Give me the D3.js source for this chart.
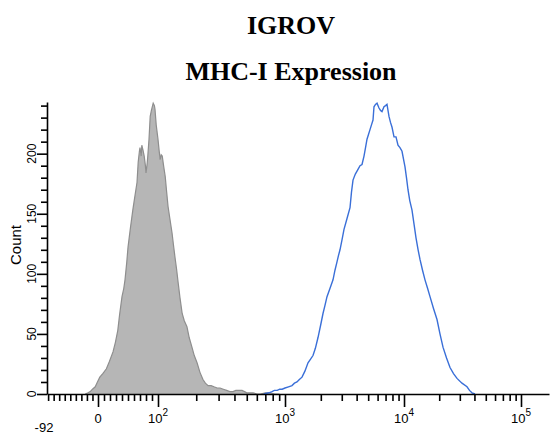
<!DOCTYPE html>
<html>
<head>
<meta charset="utf-8">
<script src="https://cdn.jsdelivr.net/npm/d3@7"></script>
<style>
  html, body { margin: 0; padding: 0; background: #fff; }
  svg { display: block; }
</style>
</head>
<body>
<svg id="chart" width="550" height="434"></svg>
<script>
// Isotype control histogram (fluorescence value, event count)
const isoValues = [-23,-18,-14,-10,-5,-1,3,8,14,19,25,29,33,36,40,43,45,48,50,54,58,61,65,67,69,70,72,73,75,77,79,80,82,83,85,87,89,92,94,95,97,100,102,104,106,108,111,114,117,120,124,129,132,136,140,144,149,155,161,169,176,185,193,203,214,226,236,248,262,276,292,308,327,347,368,390,410,430,459,480,500,530,561,600,640,700,762,830,905];
const isoCounts = [0,1,2,4,6,10,14,17,21,27,35,43,53,66,81,88,95,110,122,138,153,163,176,193,202,205,198,207,203,198,190,184,192,198,212,231,236,242,240,237,224,212,203,195,199,198,189,181,168,156,146,134,125,114,104,93,80,67,61,56,47,39,32,26,18,12,9,7,7,6,5,5,4,3,2,2,3,3,3,2,1,1,1,0,0,1,1,0,0];

// MHC-I stained histogram (fluorescence value, event count)
const mhcValues = [679,748,790,824,870,908,950,1000,1070,1145,1200,1261,1320,1390,1470,1561,1640,1719,1800,1894,1990,2086,2170,2254,2390,2532,2630,2735,2810,2899,3010,3132,3320,3518,3620,3728,3900,4106,4270,4437,4612,4750,4888,5030,5180,5330,5490,5596,5760,5932,6165,6350,6534,6791,7000,7196,7479,7700,7932,8242,8566,8904,9250,9621,10199,10500,10818,11200,11706,12200,12665,13200,13700,14400,15115,15900,16684,17900,19148,20300,21544,23100,24733,26500,28379,31300,34556,36300,38128,40449];
const mhcCounts = [0,1,2,3,3,4,4,5,6,7,9,10,12,14,19,26,29,32,38,47,57,67,74,81,88,95,103,110,115,120,128,137,146,155,168,178,183,187,190,191,198,205,212,216,220,224,228,239,241,242,238,236,235,239,240,241,231,226,222,214,214,207,205,202,189,180,170,161,153,141,130,120,112,103,95,88,81,71,62,50,39,30,22,17,13,9,6,3,1,0];

// Axis ticks and labels
const countTicks = d3.range(0, 241, 10);
const countLabels = [0, 50, 100, 150, 200];
const linearTicks = d3.range(-90, 91, 10);
const decadeLabels = [{v: 100, p: "2"}, {v: 1000, p: "3"}, {v: 10000, p: "4"}, {v: 100000, p: "5"}];
const axisMin = -92;

const svg = d3.select("#chart");
const sans = "Arial, 'Liberation Sans', sans-serif";
const serif = "'Times New Roman', 'Liberation Serif', serif";

// Biexponential-style display: linear around zero, log above 10^2
const toDisplay = v => v <= 100 ? v / 100 : 1 + Math.log10(v / 100);
const xs = d3.scaleLinear()
  .domain([toDisplay(axisMin), 0, 1, 2, 3, 4, 4.24])
  .range([47, 98, 158, 285, 404, 521, 549]);
const x = v => xs(toDisplay(v));

const y = d3.scaleLinear().domain([0, 243]).range([394, 102]);

// Titles
svg.append("text").attr("x", 291).attr("y", 34)
  .attr("text-anchor", "middle")
  .style("font-family", serif).style("font-weight", "bold").style("font-size", "26px")
  .text("IGROV");
svg.append("text").attr("x", 291).attr("y", 80)
  .attr("text-anchor", "middle")
  .style("font-family", serif).style("font-weight", "bold").style("font-size", "26px")
  .text("MHC-I Expression");

// Histograms
const iso = isoValues.map((v, i) => [v, isoCounts[i]]);
const mhc = mhcValues.map((v, i) => [v, mhcCounts[i]]);

svg.append("path").datum(iso)
  .attr("fill", "#b6b6b6")
  .attr("d", d3.area().x(d => x(d[0])).y0(y(0)).y1(d => y(d[1])));
svg.append("path").datum(iso)
  .attr("fill", "none").attr("stroke", "#8e8e8e").attr("stroke-width", 1.2)
  .attr("d", d3.line().x(d => x(d[0])).y(d => y(d[1])));

svg.append("path").datum(mhc)
  .attr("fill", "none").attr("stroke", "#3a6fd8").attr("stroke-width", 1.4)
  .attr("d", d3.line().x(d => x(d[0])).y(d => y(d[1])));

// Y axis
const yAxis = svg.append("g").attr("transform", "translate(47,0)")
  .call(d3.axisLeft(y).tickValues(countTicks).tickSize(6).tickSizeOuter(0).tickFormat(""));
yAxis.selectAll(".tick line").filter(d => d % 50 === 0).attr("x2", -10);
yAxis.selectAll("line, path").attr("stroke", "#000").attr("stroke-width", 1.6);

countLabels.forEach(v => {
  svg.append("text")
    .attr("transform", `translate(36,${y(v)}) rotate(-90)`)
    .attr("text-anchor", "middle")
    .style("font-family", sans).style("font-size", "12px")
    .text(v);
});
svg.append("text")
  .attr("transform", `translate(21,245) rotate(-90)`)
  .attr("text-anchor", "middle")
  .style("font-family", sans).style("font-size", "15px")
  .text("Count");

// X axis
const logTicks = [];
[100, 1000, 10000].forEach(d => { for (let k = 1; k < 10; k++) logTicks.push(d * k); });
logTicks.push(100000);
const xTicks = linearTicks.concat(logTicks);
const xAxis = svg.append("g").attr("transform", "translate(0,394)")
  .call(d3.axisBottom(xs).tickValues(xTicks.map(toDisplay)).tickSize(7).tickSizeOuter(0).tickFormat(""));
xAxis.selectAll(".tick line")
  .filter(d => [0, 1, 2, 3, 4].some(k => Math.abs(d - k) < 1e-9))
  .attr("y2", 13);
xAxis.selectAll("line, path").attr("stroke", "#000").attr("stroke-width", 1.6);

const labelStyle = s => s.style("font-family", sans).style("font-size", "13px");
svg.append("text").attr("x", 44).attr("y", 432).attr("text-anchor", "middle").call(labelStyle).text(axisMin);
svg.append("text").attr("x", x(0)).attr("y", 423).attr("text-anchor", "middle").call(labelStyle).text("0");
decadeLabels.forEach(d => {
  const t = svg.append("text").attr("x", x(d.v)).attr("y", 423).attr("text-anchor", "middle").call(labelStyle);
  t.append("tspan").text("10");
  t.append("tspan").attr("dy", -7).style("font-size", "10px").text(d.p);
});
</script>
</body>
</html>
